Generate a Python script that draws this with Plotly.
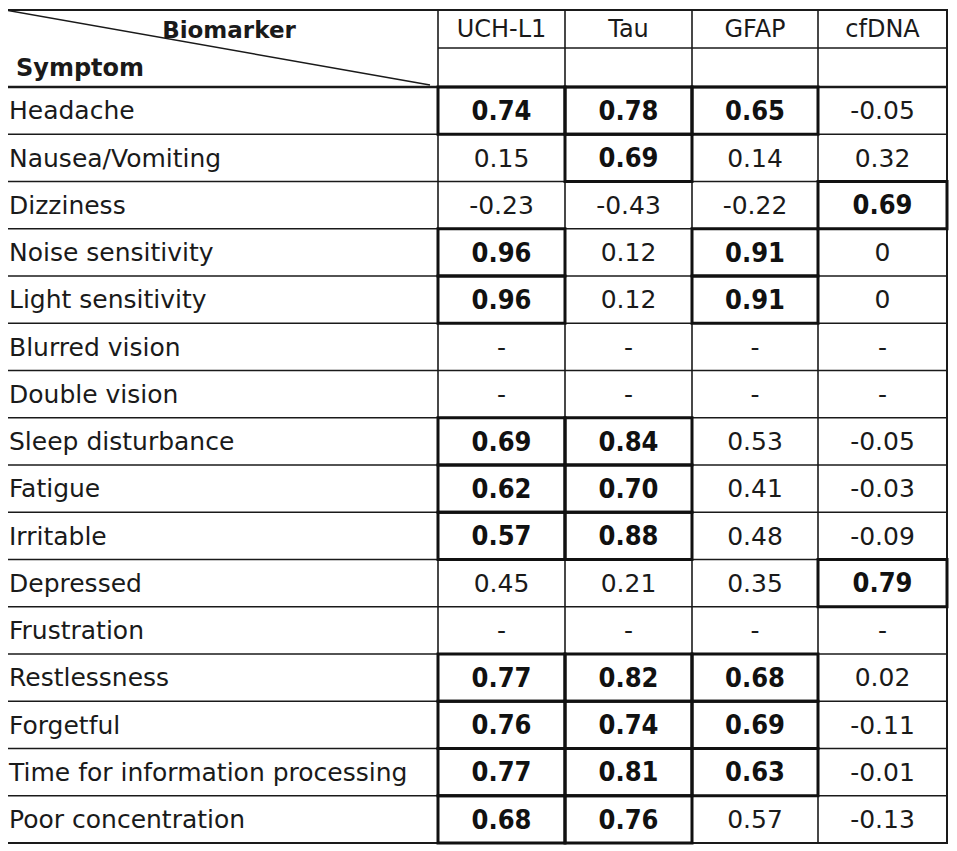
import plotly.graph_objects as go

# ---- table data ----
symptoms = ["Headache", "Nausea/Vomiting", "Dizziness", "Noise sensitivity", "Light sensitivity",
            "Blurred vision", "Double vision", "Sleep disturbance", "Fatigue", "Irritable",
            "Depressed", "Frustration", "Restlessness", "Forgetful",
            "Time for information processing", "Poor concentration"]
biomarkers = ["UCH-L1", "Tau", "GFAP", "cfDNA"]

uch_l1 = [0.74, 0.15, -0.23, 0.96, 0.96, None, None, 0.69, 0.62, 0.57, 0.45, None, 0.77, 0.76, 0.77, 0.68]
tau = [0.78, 0.69, -0.43, 0.12, 0.12, None, None, 0.84, 0.70, 0.88, 0.21, None, 0.82, 0.74, 0.81, 0.76]
gfap = [0.65, 0.14, -0.22, 0.91, 0.91, None, None, 0.53, 0.41, 0.48, 0.35, None, 0.68, 0.69, 0.63, 0.57]
cfdna = [-0.05, 0.32, 0.69, 0, 0, None, None, -0.05, -0.03, -0.09, 0.79, None, 0.02, -0.11, -0.01, -0.13]

# rows highlighted (bold + boxed) for each biomarker
uch_l1_bold = [0, 3, 4, 7, 8, 9, 12, 13, 14, 15]
tau_bold = [0, 1, 7, 8, 9, 12, 13, 14, 15]
gfap_bold = [0, 3, 4, 12, 13, 14]
cfdna_bold = [2, 10]

columns = [uch_l1, tau, gfap, cfdna]
bold_rows = [uch_l1_bold, tau_bold, gfap_bold, cfdna_bold]

# ---- geometry (axis units = page pixels) ----
col_edges = [4, 438, 565, 692, 818, 947]
top, head_mid, head_bot = 10, 48, 87
row_h = 47.25
row_top = [head_bot + i * row_h for i in range(len(symptoms))]
bottom = head_bot + len(symptoms) * row_h
PAGE_OFF = 8  # default body margin of the html page

LABEL_FONT = "DejaVu Sans"
NUM_FONT = "DejaVu Sans"
BOLD_FONT = "DejaVu Sans Condensed, DejaVu Sans"
INK = "#1a1a1a"


def fmt(v):
    if v is None:
        return "-"
    if v == 0:
        return "0"
    return f"{v:.2f}"


fig = go.Figure()

# symptom labels
fig.add_trace(go.Scatter(
    x=[col_edges[0] + 5] * len(symptoms),
    y=[t + row_h / 2 + 2.5 for t in row_top],
    text=symptoms, mode="text", textposition="middle right",
    textfont=dict(family=LABEL_FONT, size=25, color=INK),
    hoverinfo="skip", showlegend=False))

# numbers
nx, ny, nt, bx, by, bt = [], [], [], [], [], []
for c, (vals, brows) in enumerate(zip(columns, bold_rows)):
    cx = (col_edges[c + 1] + col_edges[c + 2]) / 2
    for r, v in enumerate(vals):
        cy = row_top[r] + row_h / 2 + 2.5
        if r in brows:
            bx.append(cx); by.append(cy); bt.append(fmt(v))
        else:
            nx.append(cx); ny.append(cy); nt.append(fmt(v))

fig.add_trace(go.Scatter(x=nx, y=ny, text=nt, mode="text", textposition="middle center",
                         textfont=dict(family=NUM_FONT, size=25, color=INK),
                         hoverinfo="skip", showlegend=False))
fig.add_trace(go.Scatter(x=bx, y=by, text=["<b>%s</b>" % t for t in bt], mode="text",
                         textposition="middle center",
                         textfont=dict(family=BOLD_FONT, size=27, color="#111"),
                         hoverinfo="skip", showlegend=False))

# header texts
fig.add_trace(go.Scatter(
    x=[(col_edges[c + 1] + col_edges[c + 2]) / 2 for c in range(len(biomarkers))],
    y=[(top + head_mid) / 2 + 2] * len(biomarkers),
    text=biomarkers, mode="text", textposition="middle center",
    textfont=dict(family=NUM_FONT, size=24, color=INK),
    hoverinfo="skip", showlegend=False))
fig.add_trace(go.Scatter(
    x=[229], y=[32], text=["<b>Biomarker</b>"], mode="text", textposition="middle center",
    textfont=dict(family=LABEL_FONT, size=23, color=INK),
    hoverinfo="skip", showlegend=False))
fig.add_trace(go.Scatter(
    x=[16], y=[70], text=["<b>Symptom</b>"], mode="text", textposition="middle right",
    textfont=dict(family=LABEL_FONT, size=24, color=INK),
    hoverinfo="skip", showlegend=False))

# ---- grid lines ----
shapes = []
thin = dict(color=INK, width=1.6)
thick = dict(color="#111", width=3)

for xe in col_edges[1:-1]:
    shapes.append(dict(type="line", x0=xe, x1=xe, y0=top, y1=bottom, line=thin))
shapes.append(dict(type="line", x0=col_edges[1], x1=col_edges[-1], y0=head_mid, y1=head_mid, line=thin))
for t in row_top[1:]:
    shapes.append(dict(type="line", x0=col_edges[0], x1=col_edges[-1], y0=t, y1=t, line=thin))
shapes.append(dict(type="line", x0=col_edges[0], x1=col_edges[-1], y0=head_bot, y1=head_bot,
                   line=dict(color=INK, width=2.4)))
# outer border
shapes.append(dict(type="rect", x0=col_edges[0], x1=col_edges[-1], y0=top, y1=bottom,
                   line=dict(color=INK, width=2)))
# diagonal in corner cell
shapes.append(dict(type="line", x0=col_edges[0] + 1, y0=top, x1=col_edges[1] - 8, y1=head_bot - 2,
                   line=dict(color=INK, width=1.5)))
# boxes around highlighted cells
for c, brows in enumerate(bold_rows):
    for r in brows:
        shapes.append(dict(type="rect", x0=col_edges[c + 1], x1=col_edges[c + 2],
                           y0=row_top[r], y1=row_top[r] + row_h, line=thick))

fig.update_layout(
    width=957 - PAGE_OFF, height=851 - PAGE_OFF,
    margin=dict(l=0, r=0, t=0, b=0),
    paper_bgcolor="white", plot_bgcolor="white",
    shapes=shapes,
    xaxis=dict(range=[PAGE_OFF, 957], visible=False, fixedrange=True),
    yaxis=dict(range=[851, PAGE_OFF], visible=False, fixedrange=True),
)

fig.write_html("out.html")
